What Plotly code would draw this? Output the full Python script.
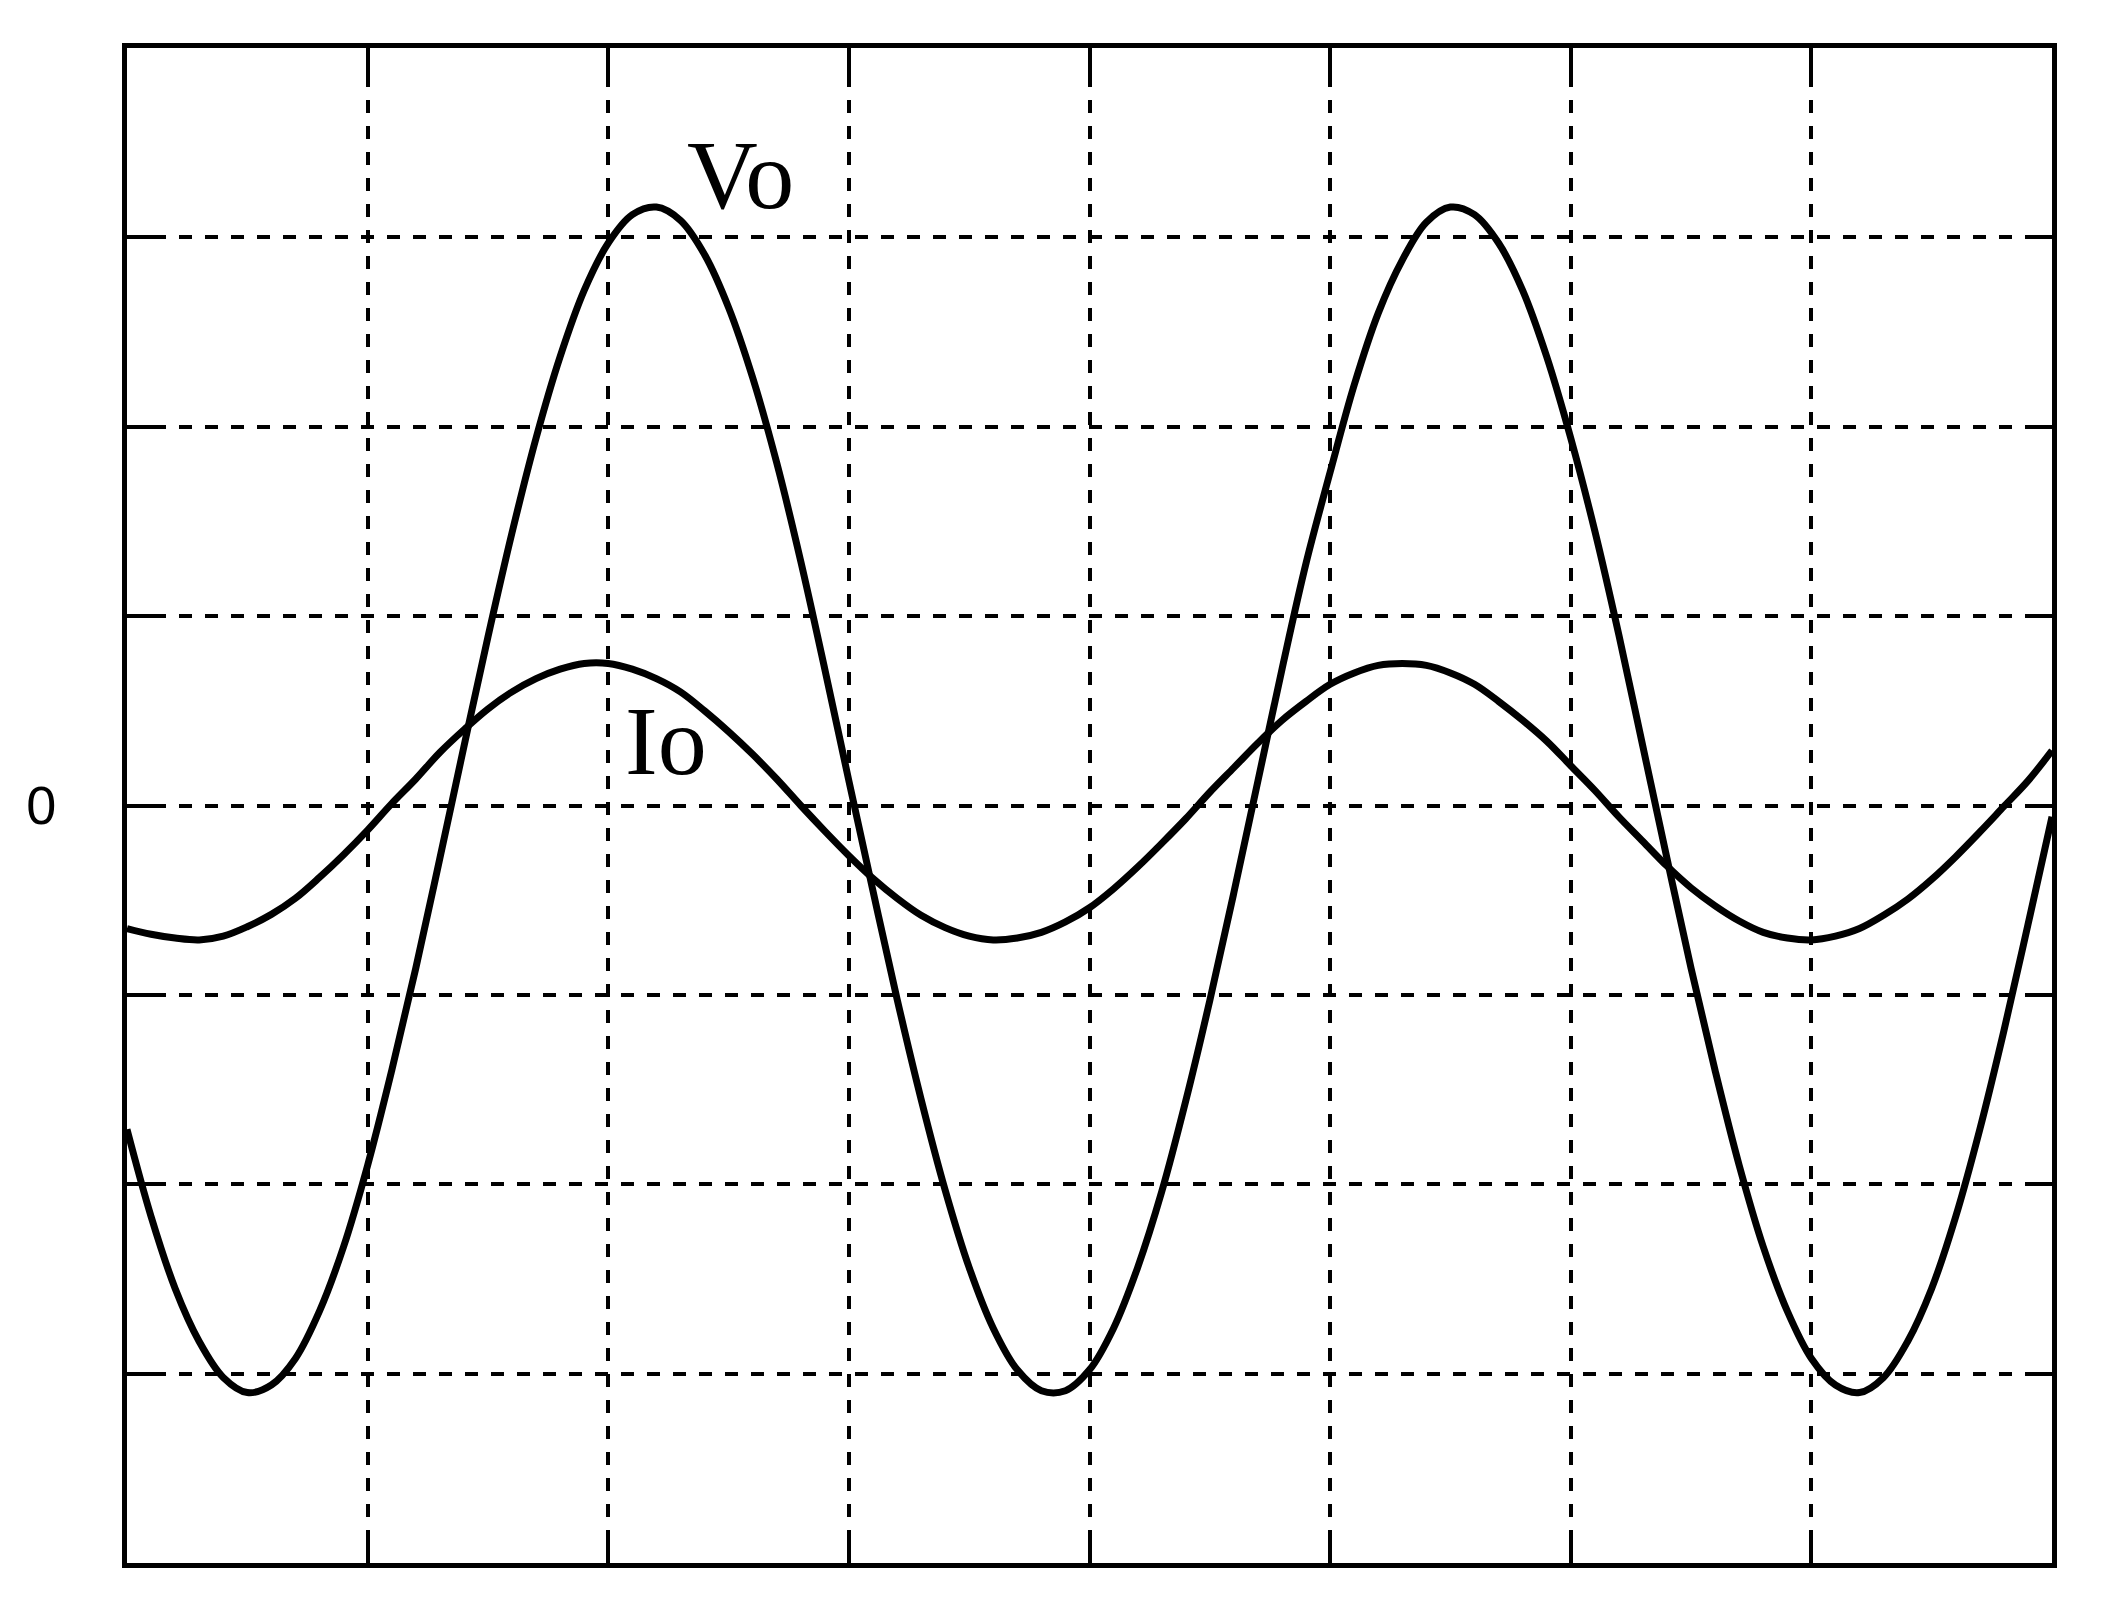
import plotly.graph_objects as go

# x and y in screen divisions (8 x 8 grid, 0 at the vertical centre)
vo_x = [round(0.1 * i, 1) for i in range(81)]
vo_y = [-1.71, -2.17, -2.55, -2.83, -3.02, -3.10, -3.06, -2.92, -2.67, -2.33,
        -1.90, -1.40, -0.86, -0.28, 0.31, 0.89, 1.44, 1.94, 2.37, 2.72,
        2.97, 3.12, 3.16, 3.09, 2.91, 2.63, 2.26, 1.81, 1.29, 0.72,
        0.13, -0.45, -1.02, -1.55, -2.03, -2.44, -2.76, -2.98, -3.09, -3.09,
        -2.98, -2.76, -2.44, -2.04, -1.56, -1.03, -0.46, 0.13, 0.72, 1.28,
        1.76, 2.22, 2.60, 2.88, 3.08, 3.16, 3.12, 2.97, 2.72, 2.37,
        1.94, 1.45, 0.90, 0.31, -0.28, -0.86, -1.40, -1.90, -2.33, -2.67,
        -2.92, -3.06, -3.10, -3.02, -2.83, -2.55, -2.17, -1.71, -1.19, -0.63,
        -0.06]

io_x = [round(0.1 * i, 1) for i in range(81)]
io_y = [-0.65, -0.68, -0.70, -0.71, -0.69, -0.64, -0.575, -0.49, -0.38, -0.26,
        -0.13, 0.01, 0.14, 0.28, 0.40, 0.51, 0.60, 0.67, 0.72, 0.75,
        0.75, 0.72, 0.67, 0.60, 0.50, 0.39, 0.27, 0.14, 0.00, -0.135,
        -0.265, -0.385, -0.49, -0.58, -0.645, -0.69, -0.71, -0.70, -0.67, -0.615,
        -0.54, -0.44, -0.325, -0.20, -0.07, 0.07, 0.20, 0.33, 0.45, 0.55,
        0.64, 0.70, 0.74, 0.75, 0.74, 0.70, 0.64, 0.55, 0.45, 0.34,
        0.21, 0.08, -0.06, -0.19, -0.32, -0.435, -0.53, -0.61, -0.67, -0.70,
        -0.71, -0.69, -0.65, -0.58, -0.495, -0.39, -0.27, -0.14, -0.005, 0.13,
        0.29]

grid_x = [0, 1, 2, 3, 4, 5, 6, 7, 8]
grid_y = [-4, -3, -2, -1, 0, 1, 2, 3, 4]
y_labels = ["", "", "", "", "0", "", "", "", ""]

labels = ["Vo", "Io"]
label_x = [2.55, 2.24]
label_y = [3.33, 0.34]

fig = go.Figure()
fig.add_trace(go.Scatter(x=vo_x, y=vo_y, mode="lines", line_shape="spline",
                         line=dict(color="black", width=7), name="Vo"))
fig.add_trace(go.Scatter(x=io_x, y=io_y, mode="lines", line_shape="spline",
                         line=dict(color="black", width=7), name="Io"))

for txt, lx, ly in zip(labels, label_x, label_y):
    fig.add_annotation(x=lx, y=ly, text=txt, showarrow=False,
                       font=dict(family="Liberation Serif", size=98, color="black"))

axis_style = dict(
    showgrid=True, gridcolor="black", gridwidth=4, griddash="13px,13px",
    zeroline=False, showline=True, linecolor="black", linewidth=5, mirror="ticks",
    ticks="inside", ticklen=26, tickwidth=4, tickcolor="black", automargin=False,
)

fig.update_xaxes(range=[0, 8], tickvals=grid_x, showticklabels=False, **axis_style)
fig.update_yaxes(range=[-4, 4], tickvals=grid_y, ticktext=y_labels, ticklabelstandoff=55,
                 tickfont=dict(family="Liberation Sans Narrow, Liberation Sans", size=54,
                               color="black"),
                 **axis_style)

# page body adds an 8px offset, so the figure is kept inside the window
fig.update_layout(
    width=2097, height=1586,
    margin=dict(l=119, r=53, t=40, b=31),
    plot_bgcolor="white", paper_bgcolor="white",
    showlegend=False,
)

fig.write_html("out.html")
